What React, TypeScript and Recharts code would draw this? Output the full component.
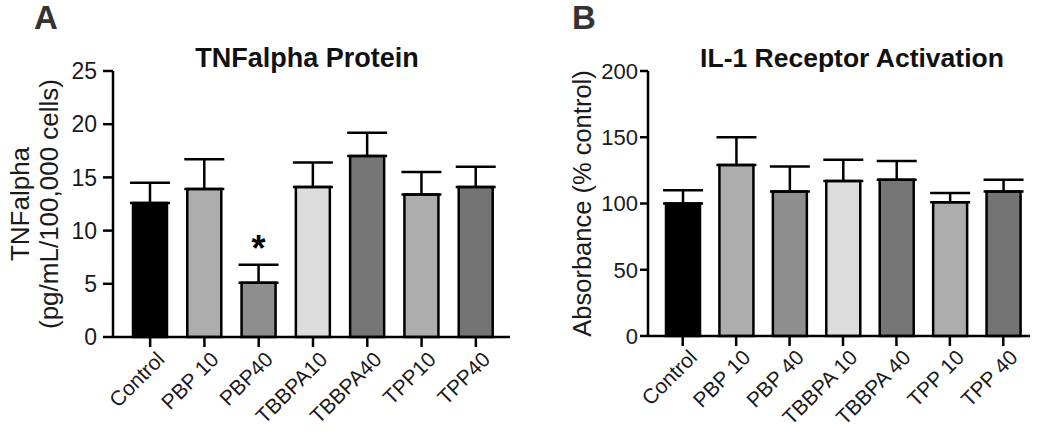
import React from 'react';
import { BarChart, Bar, XAxis, YAxis, ErrorBar, Cell, LabelList, Label } from 'recharts';

const categoriesA = ['Control', 'PBP 10', 'PBP40', 'TBBPA10', 'TBBPA40', 'TPP10', 'TPP40'];
const categoriesB = ['Control', 'PBP 10', 'PBP 40', 'TBBPA 10', 'TBBPA 40', 'TPP 10', 'TPP 40'];
const tnfMean = [12.6, 13.9, 5.1, 14.1, 17.0, 13.4, 14.1];
const tnfErr = [1.9, 2.8, 1.7, 2.3, 2.2, 2.1, 1.9];
const tnfSig = ['', '', '*', '', '', '', ''];
const il1Mean = [100, 129, 109, 117, 118, 101, 109];
const il1Err = [10, 21, 19, 16, 14, 7, 9];
const barColors = ['#000000', '#adadad', '#8e8e8e', '#dddddd', '#767676', '#adadad', '#747474'];
const ticksA = [0, 5, 10, 15, 20, 25];
const ticksB = [0, 50, 100, 150, 200];

const dataA = categoriesA.map((c, i) => ({ name: c, value: tnfMean[i], err: [0, tnfErr[i]], sig: tnfSig[i] }));
const dataB = categoriesB.map((c, i) => ({ name: c, value: il1Mean[i], err: [0, il1Err[i]] }));

const FONT = '"Liberation Sans", Arial, Helvetica, sans-serif';
const TXT = '#1a1a1a';

const XTick = (props: any) => {
  const { x, y, payload } = props;
  const ax = x + 5;
  return (
    <text
      x={ax}
      y={y}
      transform={`rotate(-45, ${ax}, ${y})`}
      textAnchor="end"
      dy="0.72em"
      fontSize={21}
      fontFamily={FONT}
      fill={TXT}
    >
      {payload.value}
    </text>
  );
};

const YLabelA = (props: any) => {
  const vb = props.viewBox || {};
  const cy = vb.y + vb.height / 2;
  const x1 = 29;
  const x2 = 58;
  return (
    <g>
      <text x={x1} y={cy} transform={`rotate(-90, ${x1}, ${cy})`} textAnchor="middle" fontSize={26} fontFamily={FONT} fill={TXT}>
        TNFalpha
      </text>
      <text x={x2} y={cy} transform={`rotate(-90, ${x2}, ${cy})`} textAnchor="middle" fontSize={26} fontFamily={FONT} fill={TXT}>
        (pg/mL/100,000 cells)
      </text>
    </g>
  );
};

const YLabelB = (props: any) => {
  const vb = props.viewBox || {};
  const cy = vb.y + vb.height / 2;
  const x1 = 66;
  return (
    <text x={x1} y={cy} transform={`rotate(-90, ${x1}, ${cy})`} textAnchor="middle" fontSize={25.5} fontFamily={FONT} fill={TXT}>
      Absorbance (% control)
    </text>
  );
};

const axisLine = { stroke: '#000', strokeWidth: 2.5 };

export default function App() {
  return (
    <div style={{ position: 'absolute', left: 0, top: 0, width: 1050, height: 433, background: '#fff', fontFamily: FONT }}>
      <div style={{ position: 'absolute', left: 0, top: 0 }}>
        <BarChart width={525} height={433} data={dataA} margin={{ top: 71, right: 15, bottom: 0, left: 0 }}>
          <XAxis
            dataKey="name"
            height={96}
            interval={0}
            padding={{ left: 10, right: 7 }}
            axisLine={axisLine}
            tickLine={axisLine}
            tickSize={10}
            tickMargin={3}
            tick={<XTick />}
          />
          <YAxis
            width={113}
            domain={[0, 25]}
            ticks={ticksA}
            axisLine={axisLine}
            tickLine={axisLine}
            tickSize={10}
            tickMargin={6}
            tick={{ fontSize: 23, fill: TXT, fontFamily: FONT }}
          >
            <Label content={<YLabelA />} />
          </YAxis>
          <Bar dataKey="value" barSize={34} stroke="#000" strokeWidth={2.5} isAnimationActive={false}>
            {dataA.map((d, i) => (
              <Cell key={d.name} fill={barColors[i]} />
            ))}
            <ErrorBar dataKey="err" width={20} stroke="#000" strokeWidth={2.5} direction="y" />
            <LabelList dataKey="sig" position="top" offset={22} fontSize={36} fontWeight="bold" fill="#000" fontFamily={FONT} />
          </Bar>
        </BarChart>
      </div>
      <div style={{ position: 'absolute', left: 525, top: 0 }}>
        <BarChart width={525} height={433} data={dataB} margin={{ top: 71, right: 20, bottom: 0, left: 0 }}>
          <XAxis
            dataKey="name"
            height={97}
            interval={0}
            padding={{ left: 8, right: 0 }}
            axisLine={axisLine}
            tickLine={axisLine}
            tickSize={10}
            tickMargin={2}
            tick={<XTick />}
          />
          <YAxis
            width={123}
            domain={[0, 200]}
            ticks={ticksB}
            axisLine={axisLine}
            tickLine={axisLine}
            tickSize={8}
            tickMargin={2}
            tick={{ fontSize: 22, fill: TXT, fontFamily: FONT }}
          >
            <Label content={<YLabelB />} />
          </YAxis>
          <Bar dataKey="value" barSize={34} stroke="#000" strokeWidth={2.5} isAnimationActive={false}>
            {dataB.map((d, i) => (
              <Cell key={d.name} fill={barColors[i]} />
            ))}
            <ErrorBar dataKey="err" width={20} stroke="#000" strokeWidth={2.5} direction="y" />
          </Bar>
        </BarChart>
      </div>
      <svg width={1050} height={433} style={{ position: 'absolute', left: 0, top: 0, pointerEvents: 'none' }}>
        <text x={34} y={29} fontSize={33} fontWeight="bold" fontFamily={FONT} fill="#333">A</text>
        <text x={572} y={29} fontSize={33} fontWeight="bold" fontFamily={FONT} fill="#333">B</text>
        <text x={307} y={67} textAnchor="middle" fontSize={27} fontWeight="bold" fontFamily={FONT} fill="#111">TNFalpha Protein</text>
        <text x={852} y={67} textAnchor="middle" fontSize={26.5} fontWeight="bold" fontFamily={FONT} fill="#111">IL-1 Receptor Activation</text>
      </svg>
    </div>
  );
}
